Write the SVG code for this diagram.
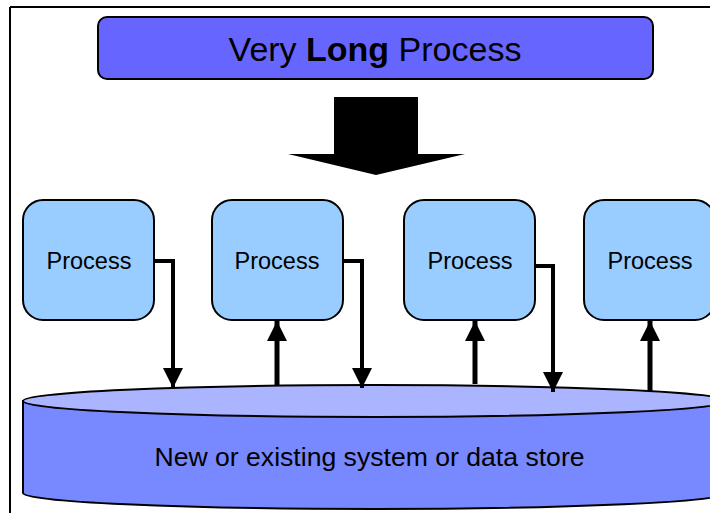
<svg xmlns="http://www.w3.org/2000/svg" width="710" height="513" viewBox="0 0 710 513">
<style>
  .proc rect { fill: #99CCFF; stroke: #000; stroke-width: 2; }
  .lbl { font-family: "Liberation Sans", Arial, sans-serif; fill: #000; text-anchor: middle; }
  .conn { fill: none; stroke: #000; stroke-width: 4; }
  .up { fill: none; stroke: #000; stroke-width: 5; }
</style>
<defs>
  <marker id="ah" viewBox="0 0 20 20" refX="20" refY="10" markerUnits="userSpaceOnUse" markerWidth="20" markerHeight="20" orient="auto">
    <path d="M0,0 L20,10 L0,20 Z" fill="#000"/>
  </marker>
</defs>
<rect width="710" height="513" fill="#fff"/>
<g id="frame">
  <line x1="10" y1="7" x2="710" y2="7" stroke="#000" stroke-width="2"/>
  <line x1="10" y1="7" x2="10" y2="513" stroke="#000" stroke-width="2"/>
</g>
<g id="very-long-process">
  <rect x="98" y="17" width="555" height="62" rx="9" fill="#6666FF" stroke="#000" stroke-width="2"/>
  <text class="lbl" x="375" y="61" font-size="34">Very <tspan font-weight="bold">Long</tspan> Process</text>
</g>
<g id="big-arrow">
  <polygon points="334,97 418,97 418,154 465,154 376,175 288,154 334,154" fill="#000"/>
</g>
<g id="datastore">
  <path d="M23,401 L23,493 A352,16 0 0 0 727,493 L727,401 Z" fill="#7888FF" stroke="#000" stroke-width="2"/>
  <ellipse cx="375" cy="401" rx="352" ry="16" fill="#AAB4FF" stroke="#000" stroke-width="2"/>
  <text class="lbl" x="369.5" y="466" font-size="26.6">New or existing system or data store</text>
</g>
<g id="process1" class="proc">
  <rect x="23" y="200" width="131" height="120" rx="20"/>
  <text class="lbl" x="89" y="269" font-size="23.5">Process</text>
</g>
<g id="process2" class="proc">
  <rect x="212" y="200" width="131" height="120" rx="20"/>
  <text class="lbl" x="277" y="269" font-size="23.5">Process</text>
</g>
<g id="process3" class="proc">
  <rect x="404" y="200" width="131" height="120" rx="20"/>
  <text class="lbl" x="470" y="269" font-size="23.5">Process</text>
</g>
<g id="process4" class="proc">
  <rect x="584" y="200" width="131" height="120" rx="20"/>
  <text class="lbl" x="650" y="269" font-size="23.5">Process</text>
</g>
<g id="connectors">
  <polyline class="conn" points="154,261 173,261 173,388" marker-end="url(#ah)"/>
  <polyline class="up" points="277,385 277,321" marker-end="url(#ah)"/>
  <polyline class="conn" points="343,261 362,261 362,388" marker-end="url(#ah)"/>
  <polyline class="up" points="475,384 475,321" marker-end="url(#ah)"/>
  <polyline class="conn" points="535,266 553,266 553,392" marker-end="url(#ah)"/>
  <polyline class="up" points="650,391 650,321" marker-end="url(#ah)"/>
</g>
</svg>
